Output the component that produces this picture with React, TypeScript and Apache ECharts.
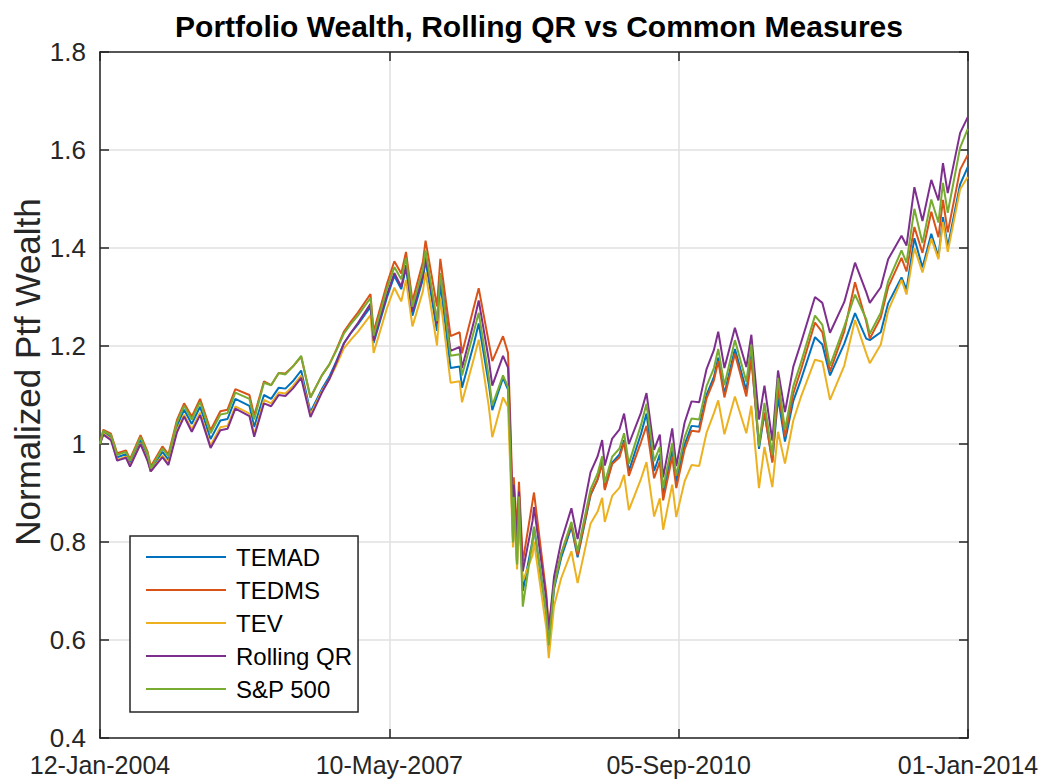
import React, { useEffect, useRef } from "react";
import * as echarts from "echarts";

const dates = [
  "2004-01-12","2004-01-26","2004-02-27","2004-03-24","2004-04-30","2004-05-17","2004-06-30","2004-07-30","2004-08-12","2004-09-30","2004-10-25","2004-11-30","2004-12-30",
  "2005-01-31","2005-03-07","2005-04-20","2005-05-31","2005-06-30","2005-08-02","2005-09-30","2005-10-20","2005-11-30","2005-12-30",
  "2006-01-31","2006-02-28","2006-03-31","2006-05-05","2006-06-13","2006-07-31","2006-08-31","2006-09-29","2006-10-31","2006-11-30","2006-12-29",
  "2007-02-20","2007-03-05","2007-04-30","2007-05-31","2007-06-29","2007-07-19","2007-08-15","2007-09-28","2007-10-09","2007-11-26","2007-12-10",
  "2008-01-22","2008-02-29","2008-03-10","2008-04-30","2008-05-19","2008-06-30","2008-07-15","2008-08-29","2008-09-19","2008-09-29","2008-10-10","2008-10-13","2008-10-27","2008-11-04","2008-11-20","2008-12-31",
  "2009-01-06","2009-02-27","2009-03-09","2009-03-31","2009-04-30","2009-06-12","2009-07-08","2009-08-31","2009-09-30","2009-10-19","2009-10-30","2009-11-30","2009-12-31",
  "2010-01-19","2010-02-08","2010-03-31","2010-04-23","2010-05-25","2010-06-18","2010-07-02","2010-08-09","2010-08-26","2010-09-30","2010-10-29","2010-11-30","2010-12-31",
  "2011-01-31","2011-02-18","2011-03-16","2011-04-29","2011-06-16","2011-07-07","2011-08-08","2011-08-31","2011-10-03","2011-10-27","2011-11-25","2011-12-30",
  "2012-01-31","2012-03-30","2012-04-30","2012-06-01","2012-07-31","2012-09-14","2012-10-31","2012-11-15","2012-12-31",
  "2013-01-31","2013-03-28","2013-04-18","2013-05-21","2013-06-24","2013-07-31","2013-08-30","2013-09-18","2013-10-08","2013-11-29","2013-12-31",
];

const temad = [
  1.000,1.024,1.014,0.973,0.979,0.961,1.008,0.974,0.944,0.984,0.968,1.036,1.070,
  1.041,1.076,1.010,1.048,1.051,1.092,1.078,1.035,1.100,1.092,
  1.115,1.113,1.128,1.150,1.065,1.112,1.137,1.168,1.205,1.227,1.244,
  1.280,1.206,1.299,1.343,1.316,1.360,1.262,1.337,1.375,1.231,1.328,
  1.155,1.158,1.115,1.207,1.246,1.123,1.069,1.135,1.111,0.978,0.799,0.892,0.754,0.893,0.700,0.803,
  0.831,0.653,0.585,0.704,0.768,0.831,0.769,0.895,0.928,0.963,0.909,0.962,0.979,
  1.008,0.945,1.021,1.062,0.945,0.979,0.898,0.987,0.923,0.999,1.037,1.035,1.100,
  1.137,1.176,1.102,1.194,1.109,1.183,0.990,1.064,0.965,1.095,1.005,1.088,
  1.131,1.218,1.203,1.140,1.205,1.267,1.215,1.212,1.228,
  1.287,1.340,1.315,1.420,1.360,1.429,1.382,1.463,1.402,1.530,1.565,
];

const tedms = [
  1.000,1.029,1.021,0.981,0.987,0.969,1.018,0.984,0.954,0.995,0.979,1.049,1.083,
  1.056,1.092,1.028,1.067,1.070,1.112,1.100,1.058,1.128,1.120,
  1.145,1.144,1.158,1.178,1.095,1.140,1.162,1.192,1.229,1.250,1.268,
  1.306,1.229,1.327,1.373,1.348,1.392,1.292,1.372,1.415,1.281,1.378,
  1.220,1.228,1.185,1.282,1.318,1.208,1.169,1.220,1.186,1.043,0.859,0.932,0.824,0.923,0.760,0.883,
  0.901,0.693,0.620,0.714,0.776,0.836,0.773,0.897,0.928,0.960,0.906,0.959,0.973,
  1.004,0.935,1.004,1.037,0.930,0.964,0.885,0.974,0.910,0.989,1.027,1.025,1.093,
  1.130,1.169,1.095,1.184,1.097,1.173,1.000,1.064,0.962,1.115,1.015,1.103,
  1.151,1.248,1.228,1.148,1.230,1.330,1.250,1.215,1.258,
  1.320,1.380,1.352,1.443,1.390,1.474,1.422,1.498,1.432,1.560,1.590,
];

const tev = [
  1.000,1.022,1.010,0.968,0.974,0.956,1.002,0.968,0.944,0.977,0.961,1.028,1.060,
  1.030,1.064,0.997,1.034,1.037,1.077,1.062,1.020,1.090,1.083,
  1.105,1.103,1.118,1.140,1.060,1.108,1.132,1.160,1.195,1.213,1.229,
  1.263,1.186,1.277,1.319,1.291,1.335,1.240,1.312,1.350,1.201,1.298,
  1.125,1.128,1.085,1.177,1.213,1.078,1.014,1.095,1.076,0.943,0.789,0.872,0.744,0.863,0.720,0.773,
  0.801,0.623,0.563,0.669,0.726,0.781,0.716,0.837,0.862,0.890,0.841,0.894,0.911,
  0.937,0.865,0.929,0.963,0.852,0.889,0.825,0.917,0.851,0.924,0.957,0.955,1.023,
  1.063,1.089,1.020,1.097,1.022,1.078,0.910,0.994,0.912,1.025,0.960,1.048,
  1.096,1.172,1.168,1.090,1.160,1.253,1.185,1.165,1.203,
  1.272,1.335,1.305,1.400,1.350,1.419,1.377,1.453,1.392,1.520,1.545,
];

const rollingQR = [
  1.000,1.019,1.008,0.966,0.972,0.954,1.000,0.965,0.944,0.973,0.957,1.024,1.056,
  1.025,1.059,0.992,1.028,1.031,1.072,1.057,1.015,1.083,1.077,
  1.100,1.098,1.113,1.135,1.055,1.105,1.132,1.165,1.205,1.227,1.247,
  1.286,1.211,1.305,1.349,1.321,1.365,1.270,1.345,1.385,1.246,1.348,
  1.190,1.198,1.155,1.252,1.293,1.173,1.119,1.180,1.156,1.018,0.829,0.917,0.794,0.903,0.740,0.843,
  0.871,0.683,0.620,0.729,0.801,0.869,0.806,0.942,0.975,1.008,0.956,1.011,1.030,
  1.062,1.000,1.064,1.104,0.988,1.019,0.932,1.032,0.955,1.044,1.087,1.085,1.153,
  1.192,1.229,1.155,1.237,1.157,1.223,1.050,1.119,1.007,1.150,1.065,1.158,
  1.206,1.300,1.288,1.227,1.290,1.370,1.310,1.288,1.320,
  1.377,1.425,1.405,1.524,1.455,1.539,1.497,1.573,1.512,1.635,1.667,
];

const sp500 = [
  1.000,1.027,1.018,0.978,0.984,0.966,1.014,0.980,0.950,0.991,0.975,1.044,1.078,
  1.050,1.086,1.022,1.060,1.063,1.105,1.092,1.050,1.125,1.120,
  1.145,1.142,1.158,1.180,1.095,1.140,1.162,1.190,1.225,1.245,1.262,
  1.298,1.221,1.317,1.361,1.336,1.380,1.280,1.357,1.395,1.251,1.348,
  1.180,1.183,1.140,1.232,1.268,1.138,1.079,1.140,1.116,0.983,0.799,0.892,0.754,0.893,0.668,0.803,
  0.831,0.653,0.590,0.709,0.776,0.841,0.781,0.907,0.940,0.975,0.921,0.974,0.991,
  1.022,0.960,1.039,1.082,0.965,0.994,0.910,1.002,0.935,1.014,1.052,1.050,1.118,
  1.155,1.194,1.120,1.212,1.127,1.203,0.995,1.084,0.977,1.135,1.030,1.118,
  1.166,1.262,1.243,1.160,1.240,1.305,1.255,1.225,1.268,
  1.332,1.395,1.370,1.480,1.410,1.499,1.452,1.533,1.472,1.605,1.643,
];

const seriesNames = ["TEMAD", "TEDMS", "TEV", "Rolling QR", "S&P 500"];
const seriesValues = [temad, tedms, tev, rollingQR, sp500];
const seriesColors = ["#0072BD", "#D95319", "#EDB120", "#7E2F8E", "#77AC30"];

const titleText = "Portfolio Wealth, Rolling QR vs Common Measures";
const yAxisTitle = "Normalized Ptf Wealth";
const startDate = "2004-01-12";
const endDate = "2014-01-01";
const xTickStep = 1214; // days: 12-Jan-2004, 10-May-2007, 05-Sep-2010, 01-Jan-2014
const yMin = 0.4;
const yMax = 1.8;
const yStep = 0.2;

const MONTHS = ["Jan","Feb","Mar","Apr","May","Jun","Jul","Aug","Sep","Oct","Nov","Dec"];
const DAY = 86400000;
const toUTC = (s: string) => {
  const [y, m, d] = s.split("-").map(Number);
  return Date.UTC(y, m - 1, d);
};
const base = toUTC(startDate);
const dayOffset = (s: string) => Math.round((toUTC(s) - base) / DAY);
const fmtDate = (v: number) => {
  const d = new Date(base + Math.round(v) * DAY);
  const dd = String(d.getUTCDate()).padStart(2, "0");
  return `${dd}-${MONTHS[d.getUTCMonth()]}-${d.getUTCFullYear()}`;
};

const FONT = "'Liberation Sans', Arial, Helvetica, sans-serif";
const AX = "#262626";

export default function App() {
  const ref = useRef<HTMLDivElement>(null);
  useEffect(() => {
    document.body.style.margin = "0";
    if (!ref.current) return;
    const chart = echarts.init(ref.current, undefined, { renderer: "svg" });
    const xMax = dayOffset(endDate);
    const axisLine = { show: true, onZero: false, lineStyle: { color: AX, width: 1.5 } };
    const axisTick = { show: true, inside: true, length: 9, lineStyle: { color: AX, width: 1.5 } };
    const grid = { color: "#e1e1e1", width: 1.5 };
    chart.setOption({
      animation: false,
      backgroundColor: "#ffffff",
      title: {
        text: titleText,
        left: 534,
        textAlign: "center",
        top: 6,
        textStyle: { fontFamily: FONT, fontSize: 30, fontWeight: "bold", color: "#000" },
      },
      graphic: [
        {
          type: "text",
          x: 27,
          y: 372,
          rotation: Math.PI / 2,
          style: {
            text: yAxisTitle,
            fontFamily: FONT,
            fontSize: 35,
            fill: AX,
            textAlign: "center",
            textVerticalAlign: "middle",
          },
        },
      ],
      grid: { left: 100, right: 76, top: 52, bottom: 43, containLabel: false },
      legend: {
        data: seriesNames,
        orient: "vertical",
        left: 130,
        top: 536,
        icon: "rect",
        itemWidth: 80,
        itemHeight: 2,
        itemGap: 9,
        padding: [9, 6, 11, 16],
        borderColor: AX,
        borderWidth: 1.5,
        backgroundColor: "#ffffff",
        textStyle: { fontFamily: FONT, fontSize: 24, color: "#000", padding: [0, 0, 0, 5], lineHeight: 24 },
      },
      xAxis: [
        {
          type: "value", min: 0, max: xMax, interval: xTickStep, position: "bottom",
          axisLine, axisTick,
          axisLabel: { formatter: fmtDate, fontFamily: FONT, fontSize: 25, color: AX, margin: 14, lineHeight: 25, showMinLabel: true, showMaxLabel: true },
          splitLine: { show: true, lineStyle: grid },
        },
        {
          type: "value", min: 0, max: xMax, interval: xTickStep, position: "top",
          axisLine, axisTick, axisLabel: { show: false }, splitLine: { show: false },
        },
      ],
      yAxis: [
        {
          type: "value", min: yMin, max: yMax, interval: yStep, position: "left",
          axisLine, axisTick,
          axisLabel: { formatter: (v: number) => String(+v.toFixed(1)), fontFamily: FONT, fontSize: 26, color: AX, margin: 14 },
          splitLine: { show: true, lineStyle: grid },
        },
        {
          type: "value", min: yMin, max: yMax, interval: yStep, position: "right",
          axisLine, axisTick, axisLabel: { show: false }, splitLine: { show: false },
        },
      ],
      series: seriesNames.map((name, k) => ({
        name,
        type: "line",
        xAxisIndex: 0,
        yAxisIndex: 0,
        symbol: "none",
        showSymbol: false,
        color: seriesColors[k],
        lineStyle: { color: seriesColors[k], width: 2 },
        data: dates.map((d, i) => [dayOffset(d), seriesValues[k][i]]),
        z: 2 + k,
      })),
    });
    return () => chart.dispose();
  }, []);
  return <div ref={ref} style={{ position: "absolute", left: 0, top: 0, width: 1044, height: 781 }} />;
}
